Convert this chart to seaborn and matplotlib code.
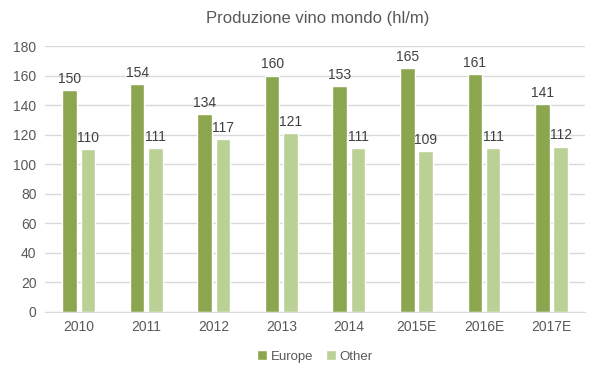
import pandas as pd
import matplotlib.pyplot as plt
import seaborn as sns

years = ["2010", "2011", "2012", "2013", "2014", "2015E", "2016E", "2017E"]
europe = [150, 154, 134, 160, 153, 165, 161, 141]
other = [110, 111, 117, 121, 111, 109, 111, 112]

COLOR_EUROPE = "#8BA64F"
COLOR_OTHER = "#BAD095"

df = pd.DataFrame({
    "year": years * 2,
    "value": europe + other,
    "series": ["Europe"] * len(years) + ["Other"] * len(years),
})

sns.set_style("white")
plt.rcParams["font.family"] = ["Liberation Sans", "DejaVu Sans"]

fig = plt.figure(figsize=(5.99, 3.78), dpi=100)
ax = fig.add_axes([0.075, 0.175, 0.902, 0.703])

sns.barplot(data=df, x="year", y="value", hue="series", order=years,
            palette={"Europe": COLOR_EUROPE, "Other": COLOR_OTHER},
            saturation=1, width=0.54, gap=0.2, ax=ax)

for container in ax.containers:
    ax.bar_label(container, padding=3, fontsize=10, color="#404040")

ax.set_ylim(0, 180)
ax.set_yticks(range(0, 181, 20))
ax.yaxis.grid(True, color="#D9D9D9", linewidth=1)
ax.set_axisbelow(True)
ax.set_xlabel("")
ax.set_ylabel("")
for side in ("top", "right", "left"):
    ax.spines[side].set_visible(False)
ax.spines["bottom"].set_color("#D9D9D9")
ax.tick_params(axis="both", length=0, labelsize=10, labelcolor="#595959", pad=6)

fig.text(0.53, 0.952, "Produzione vino mondo (hl/m)", ha="center", va="center",
         fontsize=12, color="#595959")

ax.legend(loc="upper center", bbox_to_anchor=(0.5, -0.1), ncol=2, frameon=False,
          fontsize=9.5, handlelength=0.7, handleheight=0.7, handletextpad=0.3,
          columnspacing=1.0, labelcolor="#595959")

fig.savefig("out.png", dpi=100)
